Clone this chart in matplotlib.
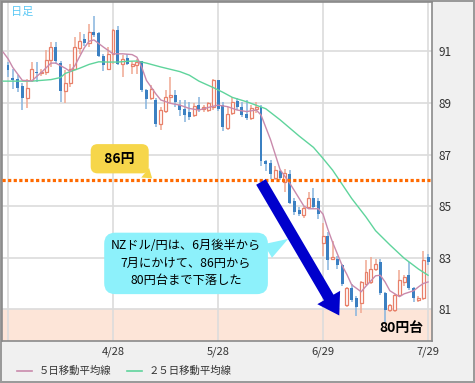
import matplotlib

matplotlib.use("Agg")
import matplotlib.pyplot as plt
from matplotlib.lines import Line2D

# NZD/JPY daily candles (trading-day index 0 = 3/27 ... 88 = 7/29)
opens = [90.49, 89.99, 89.92, 89.65, 89.18, 89.88, 90.21, 90.15, 90.21, 90.68,
         91.17, 90.55, 89.47, 89.76, 90.33, 91.14, 91.49, 91.32, 91.74, 91.70,
         90.81, 90.33, 90.91, 91.83, 90.50, 90.76, 90.44, 90.46, 90.63, 89.50,
         89.18, 89.12, 88.20, 88.70, 89.24, 89.30, 88.92, 88.76, 88.67, 88.54,
         88.92, 88.76, 88.73, 88.86, 89.88, 88.92, 88.03, 88.60, 89.08, 88.86,
         88.57, 88.41, 88.76, 88.86, 86.74, 86.68, 86.10, 86.36, 85.95, 86.23,
         85.21, 84.86, 84.65, 84.96, 85.31, 85.21, 83.58, 83.86, 82.96, 82.96,
         82.70, 81.17, 81.81, 81.42, 81.25, 82.00, 82.06, 82.58, 82.83, 81.62,
         80.97, 80.97, 81.55, 82.06, 82.32, 81.81, 81.35, 81.42, 83.03]
highs = [90.59, 90.33, 90.08, 89.76, 89.95, 90.59, 90.59, 90.33, 91.04, 91.36,
         91.36, 90.65, 90.27, 90.53, 91.55, 91.74, 91.68, 92.06, 92.38, 91.74,
         90.91, 91.17, 91.87, 92.00, 90.85, 90.91, 90.65, 90.72, 90.65, 89.56,
         89.69, 89.18, 88.86, 89.50, 90.01, 89.50, 89.11, 89.11, 89.05, 88.99,
         89.24, 88.92, 89.05, 89.95, 89.91, 89.05, 88.86, 89.24, 89.18, 89.05,
         89.11, 88.92, 89.05, 88.92, 86.78, 86.80, 86.55, 86.42, 86.45, 86.40,
         85.30, 84.95, 85.00, 85.56, 85.70, 85.30, 84.36, 83.99, 83.63, 83.05,
         82.75, 81.87, 82.00, 81.50, 82.10, 82.90, 83.03, 82.97, 82.96, 81.68,
         81.22, 81.60, 82.51, 82.32, 82.83, 81.87, 81.50, 83.28, 83.16]
lows = [90.01, 89.56, 89.44, 88.73, 88.79, 89.82, 89.82, 90.05, 90.08, 90.40,
        90.53, 89.05, 88.99, 89.63, 90.27, 90.91, 91.23, 91.17, 91.55, 90.78,
        90.24, 90.27, 90.53, 90.46, 90.01, 90.46, 90.14, 90.14, 89.44, 88.76,
        89.11, 88.09, 87.96, 88.60, 88.99, 88.86, 88.50, 88.28, 88.35, 88.47,
        88.67, 88.67, 88.67, 88.73, 88.70, 87.90, 87.96, 88.54, 88.73, 88.45,
        88.35, 88.35, 88.60, 86.55, 86.36, 86.05, 86.00, 86.00, 85.55, 85.10,
        84.65, 84.60, 84.55, 84.90, 84.90, 84.50, 83.06, 82.51, 82.90, 82.55,
        81.90, 81.10, 81.30, 80.73, 80.86, 81.95, 82.00, 82.50, 81.55, 80.50,
        80.90, 80.90, 81.50, 81.90, 81.75, 81.30, 81.30, 81.36, 82.70]
closes = [90.27, 89.88, 89.60, 89.18, 89.60, 90.33, 90.17, 90.22, 90.68, 91.17,
          90.65, 89.47, 89.76, 90.33, 91.17, 91.42, 91.32, 91.74, 91.65, 90.81,
          90.46, 90.91, 91.83, 90.53, 90.72, 90.50, 90.53, 90.59, 89.50, 89.15,
          89.53, 88.20, 88.73, 89.24, 89.30, 89.05, 88.73, 88.54, 88.47, 88.90,
          88.73, 88.86, 89.00, 89.88, 88.76, 88.09, 88.57, 89.05, 88.86, 88.54,
          88.41, 88.79, 88.86, 86.74, 86.62, 86.23, 86.42, 86.10, 86.30, 85.14,
          84.76, 84.69, 84.92, 85.31, 84.96, 84.69, 83.86, 82.90, 83.01, 82.70,
          81.99, 81.81, 81.36, 81.10, 82.05, 82.45, 82.58, 82.77, 81.62, 80.97,
          81.16, 81.55, 82.13, 82.26, 81.81, 81.42, 81.45, 82.90, 82.83]

# moving averages (day index, value)
ma5_days = [-1, 0, 1, 3, 5, 6, 7, 9, 10, 12, 13, 14, 15, 16, 17, 18, 20, 22, 24,
            26, 27, 28, 29, 31, 32, 34, 36, 38, 40, 42, 44, 46, 48, 50, 52, 53,
            55, 57, 59, 61, 62, 63, 65, 66, 67, 68, 70, 71, 72, 74, 75, 77, 78,
            79, 80, 82, 83, 85, 86, 87, 88]
ma5_vals = [90.97, 90.72, 90.38, 89.88, 89.86, 90.03, 90.19, 90.55, 90.55, 90.35,
            90.23, 90.45, 90.80, 91.15, 91.40, 91.45, 91.17, 90.91, 90.91, 90.88,
            90.78, 90.40, 89.88, 89.35, 89.12, 88.99, 88.92, 88.79, 88.73, 88.83,
            88.92, 88.86, 88.73, 88.67, 88.73, 88.54, 87.58, 86.42, 85.90, 85.30,
            85.00, 84.90, 84.90, 84.69, 84.11, 83.60, 82.70, 82.35, 81.95, 81.68,
            81.90, 82.30, 82.32, 82.06, 81.72, 81.49, 81.60, 81.72, 81.87, 82.00,
            82.06]
ma25_days = [-1, 5, 9, 11, 12, 15, 17, 19, 21, 23, 25, 27, 29, 32, 36, 38, 40,
             43, 45, 47, 50, 54, 57, 61, 64, 66, 68, 70, 72, 75, 77, 80, 83, 86, 88]
ma25_vals = [89.85, 89.85, 89.91, 89.99, 90.15, 90.35, 90.50, 90.60, 90.59, 90.59,
             90.62, 90.63, 90.55, 90.40, 90.22, 90.08, 89.85, 89.60, 89.42, 89.22,
             89.05, 88.78, 88.35, 87.72, 87.28, 86.85, 86.40, 85.85, 85.30, 84.58,
             84.05, 83.50, 82.98, 82.56, 82.32]

tick_days = [0, 22, 44, 66, 88]
tick_labels = ["", "4/28", "5/28", "6/29", "7/29"]
y_ticks = [81, 83, 85, 87, 89, 91]
level_line = 86.0
band_top = 81.0

UP_EDGE = "#e8806a"
UP_WICK = "#f0a892"
DOWN_BODY = "#3b80c2"
DOWN_WICK = "#86b4de"
MA5_COLOR = "#c98aac"
MA25_COLOR = "#5fd49c"

plt.rcParams["font.family"] = ["Noto Sans CJK JP", "DejaVu Sans"]

fig = plt.figure(figsize=(4.75, 3.83), dpi=100)
fig.patch.set_facecolor("#f0f0f0")
fig.patch.set_edgecolor("#9a9a9a")
fig.patch.set_linewidth(1.5)
ax = fig.add_axes([2 / 475, 42 / 383, 430 / 475, 339 / 383])
ax.set_facecolor("white")

ax.set_xlim(-1.26, 88.83)
ax.set_ylim(79.77, 92.92)

ax.axhspan(79.0, band_top, color="#fde5d8", zorder=0)
ax.set_xticks(tick_days)
ax.set_xticklabels(tick_labels)
ax.set_yticks(y_ticks)
ax.grid(True, color="#dcdcdc", linewidth=1.2, zorder=0.5)
ax.set_axisbelow(True)
ax.yaxis.tick_right()
ax.tick_params(axis="both", length=0, labelsize=8.5, colors="#333333")
ax.tick_params(axis="x", pad=4, labelsize=8)
ax.tick_params(axis="y", pad=5)
for sp in ax.spines.values():
    sp.set_color("#8a8a8a")
    sp.set_linewidth(1.2)

# candles
days = list(range(len(opens)))
for d, o, h, l, c in zip(days, opens, highs, lows, closes):
    up = c >= o
    ax.vlines(d, l, h, color=UP_WICK if up else DOWN_WICK, linewidth=1.1, zorder=2)
    bottom = min(o, c)
    height = max(abs(c - o), 0.04)
    if up:
        ax.bar(d, height, bottom=bottom, width=0.62, facecolor="white",
               edgecolor=UP_EDGE, linewidth=0.9, zorder=3)
    else:
        ax.bar(d, height, bottom=bottom, width=0.62, color=DOWN_BODY,
               linewidth=0, zorder=3)

ax.plot(ma25_days, ma25_vals, color=MA25_COLOR, linewidth=1.0, zorder=4)
ax.plot(ma5_days, ma5_vals, color=MA5_COLOR, linewidth=1.0, zorder=4)

# 86 yen level
ax.axhline(level_line, color="#ff6a00", linewidth=2.3, linestyle=(0, (1, 0.75)),
           dash_capstyle="butt", zorder=5)

ax.annotate("  86円  ", xy=(30.2, 86.08), xytext=(23.4, 86.84),
            ha="center", va="center", fontsize=10, fontweight="bold", zorder=6,
            bbox=dict(boxstyle="round,pad=0.55,rounding_size=0.5",
                      fc="#f6d64a", ec="none"),
            arrowprops=dict(arrowstyle="wedge,tail_width=0.9,shrink_factor=0.5",
                            fc="#f6d64a", ec="none", relpos=(0.86, 0.08),
                            shrinkA=0, shrinkB=0))

ax.annotate("NZドル/円は、6月後半から\n7月にかけて、86円から\n80円台まで下落した",
            xy=(58.7, 83.73), xytext=(37.3, 82.78),
            ha="center", va="center", multialignment="center",
            fontsize=8.8, linespacing=1.45, zorder=6,
            bbox=dict(boxstyle="round,pad=0.55,rounding_size=0.9",
                      fc="#8df1fb", ec="none"),
            arrowprops=dict(arrowstyle="wedge,tail_width=1.3,shrink_factor=0.5",
                            fc="#8df1fb", ec="none", relpos=(0.97, 0.62),
                            shrinkA=0, shrinkB=0))

# drop arrow
ax.annotate("", xy=(69.4, 80.76), xytext=(53.0, 85.94), zorder=7,
            arrowprops=dict(arrowstyle="simple,head_length=1.5,head_width=1.9,tail_width=0.8",
                            mutation_scale=10, fc="#0000cc", ec="none",
                            shrinkA=0, shrinkB=0))

ax.text(82.5, 80.28, "80円台", ha="center", va="center", fontsize=10,
        fontweight="bold", zorder=8)
ax.text(0.02, 0.985, "日足", transform=ax.transAxes, ha="left", va="top",
        fontsize=8, color="#5bc8f5")

handles = [Line2D([], [], color=MA5_COLOR, linewidth=1.2),
           Line2D([], [], color=MA25_COLOR, linewidth=1.2)]
fig.legend(handles, ["５日移動平均線", "２５日移動平均線"], ncol=2,
           loc="center left", bbox_to_anchor=(0.015, 0.031), frameon=False,
           fontsize=7.5, handlelength=1.5, handletextpad=0.6, columnspacing=1.5,
           labelcolor="#333333")

fig.savefig("out.png", dpi=100, facecolor=fig.get_facecolor(),
            edgecolor=fig.get_edgecolor())
